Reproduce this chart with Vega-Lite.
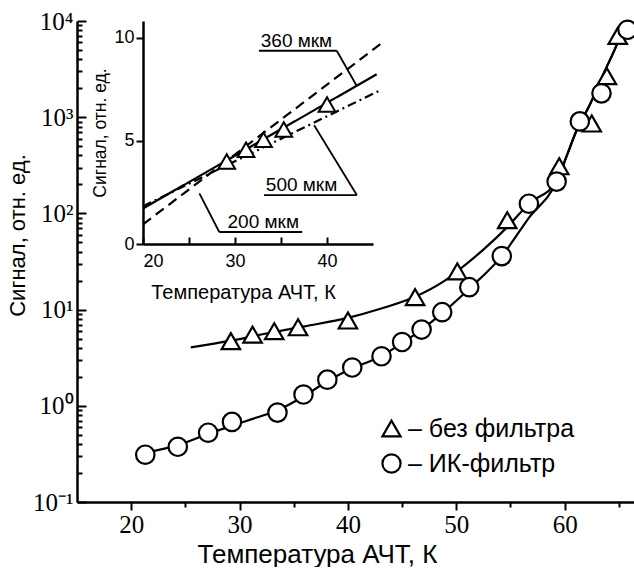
{
  "$schema": "https://vega.github.io/schema/vega-lite/v6.json",
  "background": "white",
  "padding": {"left": 6, "top": 9, "right": 0, "bottom": 0},
  "width": 557,
  "height": 481,
  "config": {
    "view": {"stroke": null},
    "axis": {"grid": false, "domainColor": "black", "tickColor": "black", "labelColor": "black", "titleColor": "black", "domainWidth": 2.5, "tickWidth": 2, "titleFontWeight": "normal"}
  },
  "datasets": {
    "main_points": [
      {"T": 29.2, "S": 4.7, "series": "без фильтра"},
      {"T": 31.2, "S": 5.5, "series": "без фильтра"},
      {"T": 33.2, "S": 5.96, "series": "без фильтра"},
      {"T": 35.4, "S": 6.55, "series": "без фильтра"},
      {"T": 40.0, "S": 7.7, "series": "без фильтра"},
      {"T": 46.2, "S": 13.5, "series": "без фильтра"},
      {"T": 50.1, "S": 25, "series": "без фильтра"},
      {"T": 54.7, "S": 85, "series": "без фильтра"},
      {"T": 59.5, "S": 309, "series": "без фильтра"},
      {"T": 62.5, "S": 860, "series": "без фильтра"},
      {"T": 63.9, "S": 2670, "series": "без фильтра"},
      {"T": 64.9, "S": 7000, "series": "без фильтра"},
      {"T": 21.3, "S": 0.31, "series": "ИК-фильтр"},
      {"T": 24.3, "S": 0.375, "series": "ИК-фильтр"},
      {"T": 27.1, "S": 0.525, "series": "ИК-фильтр"},
      {"T": 29.3, "S": 0.68, "series": "ИК-фильтр"},
      {"T": 33.5, "S": 0.85, "series": "ИК-фильтр"},
      {"T": 35.9, "S": 1.31, "series": "ИК-фильтр"},
      {"T": 38.1, "S": 1.87, "series": "ИК-фильтр"},
      {"T": 40.4, "S": 2.5, "series": "ИК-фильтр"},
      {"T": 43.1, "S": 3.27, "series": "ИК-фильтр"},
      {"T": 45.0, "S": 4.6, "series": "ИК-фильтр"},
      {"T": 46.8, "S": 6.2, "series": "ИК-фильтр"},
      {"T": 48.7, "S": 9.4, "series": "ИК-фильтр"},
      {"T": 51.2, "S": 17.1, "series": "ИК-фильтр"},
      {"T": 54.2, "S": 36, "series": "ИК-фильтр"},
      {"T": 56.7, "S": 126, "series": "ИК-фильтр"},
      {"T": 59.26, "S": 214, "series": "ИК-фильтр"},
      {"T": 61.4, "S": 904, "series": "ИК-фильтр"},
      {"T": 63.4, "S": 1770, "series": "ИК-фильтр"},
      {"T": 65.8, "S": 8100, "series": "ИК-фильтр"}
    ],
    "main_curves": [
      {"T": 25.5, "S": 4.05, "series": "без фильтра"},
      {"T": 29.2, "S": 4.75, "series": "без фильтра"},
      {"T": 33.2, "S": 5.85, "series": "без фильтра"},
      {"T": 36.0, "S": 6.7, "series": "без фильтра"},
      {"T": 40.0, "S": 8.2, "series": "без фильтра"},
      {"T": 43.0, "S": 10.2, "series": "без фильтра"},
      {"T": 46.2, "S": 13.6, "series": "без фильтра"},
      {"T": 48.8, "S": 19.5, "series": "без фильтра"},
      {"T": 50.8, "S": 29, "series": "без фильтра"},
      {"T": 52.5, "S": 42, "series": "без фильтра"},
      {"T": 54.7, "S": 72, "series": "без фильтра"},
      {"T": 56.7, "S": 126, "series": "без фильтра"},
      {"T": 59.26, "S": 214, "series": "без фильтра"},
      {"T": 60.2, "S": 398, "series": "без фильтра"},
      {"T": 61.1, "S": 727, "series": "без фильтра"},
      {"T": 62.3, "S": 1330, "series": "без фильтра"},
      {"T": 63.7, "S": 3000, "series": "без фильтра"},
      {"T": 64.8, "S": 5620, "series": "без фильтра"},
      {"T": 66.4, "S": 16000, "series": "без фильтра"},
      {"T": 21.6, "S": 0.33, "series": "ИК-фильтр"},
      {"T": 24.3, "S": 0.39, "series": "ИК-фильтр"},
      {"T": 27.1, "S": 0.51, "series": "ИК-фильтр"},
      {"T": 29.3, "S": 0.62, "series": "ИК-фильтр"},
      {"T": 31.5, "S": 0.75, "series": "ИК-фильтр"},
      {"T": 33.5, "S": 0.9, "series": "ИК-фильтр"},
      {"T": 35.9, "S": 1.25, "series": "ИК-фильтр"},
      {"T": 38.1, "S": 1.8, "series": "ИК-фильтр"},
      {"T": 40.4, "S": 2.45, "series": "ИК-фильтр"},
      {"T": 43.1, "S": 3.3, "series": "ИК-фильтр"},
      {"T": 45.0, "S": 4.5, "series": "ИК-фильтр"},
      {"T": 46.8, "S": 6.2, "series": "ИК-фильтр"},
      {"T": 48.7, "S": 9.2, "series": "ИК-фильтр"},
      {"T": 51.2, "S": 16.5, "series": "ИК-фильтр"},
      {"T": 54.2, "S": 36, "series": "ИК-фильтр"},
      {"T": 56.7, "S": 90, "series": "ИК-фильтр"},
      {"T": 59.26, "S": 214, "series": "ИК-фильтр"},
      {"T": 60.2, "S": 398, "series": "ИК-фильтр"},
      {"T": 61.1, "S": 727, "series": "ИК-фильтр"},
      {"T": 62.3, "S": 1330, "series": "ИК-фильтр"},
      {"T": 63.7, "S": 3000, "series": "ИК-фильтр"},
      {"T": 64.8, "S": 5620, "series": "ИК-фильтр"},
      {"T": 66.4, "S": 16000, "series": "ИК-фильтр"}
    ],
    "inset_lines": [
      {"T": 20, "S": 1.72, "series": "360 мкм"},
      {"T": 45.4, "S": 8.22, "series": "360 мкм"},
      {"T": 20, "S": 0.95, "series": "200 мкм"},
      {"T": 45.8, "S": 9.68, "series": "200 мкм"},
      {"T": 20, "S": 1.83, "series": "500 мкм"},
      {"T": 45.8, "S": 7.45, "series": "500 мкм"}
    ],
    "inset_points": [
      {"T": 29.1, "S": 3.99},
      {"T": 31.2, "S": 4.56},
      {"T": 33.1, "S": 5.05},
      {"T": 35.3, "S": 5.54},
      {"T": 40.0, "S": 6.76}
    ],
    "inset_labels": [
      {"T": 32.8, "S": 9.84, "label": "360 мкм"},
      {"T": 33.35, "S": 2.85, "label": "500 мкм"},
      {"T": 29.19, "S": 1.06, "label": "200 мкм"}
    ],
    "inset_segments": [
      {"T": 32.6, "S": 9.36, "T2": 41.06, "S2": 9.36},
      {"T": 41.06, "S": 9.36, "T2": 43.24, "S2": 7.65},
      {"T": 33.15, "S": 2.37, "T2": 43.24, "S2": 2.37},
      {"T": 43.24, "S": 2.37, "T2": 38.6, "S2": 5.75},
      {"T": 28.29, "S": 0.58, "T2": 37.3, "S2": 0.58},
      {"T": 28.29, "S": 0.58, "T2": 26.13, "S2": 2.45}
    ]
  },
  "layer": [
    {
      "layer": [
        {
          "data": {"name": "main_curves"},
          "mark": {"type": "line", "color": "black", "strokeWidth": 2.2, "interpolate": "monotone", "clip": true},
          "encoding": {
            "x": {
              "field": "T", "type": "quantitative",
              "scale": {"domain": [15, 66.4], "nice": false, "zero": false},
              "axis": {
                "orient": "bottom",
                "values": [20, 25, 30, 35, 40, 45, 50, 55, 60, 65],
                "labelExpr": "datum.value % 10 === 0 ? datum.label : ''",
                "tickSize": {"condition": {"test": "datum.value % 10 === 0", "value": 8}, "value": 5},
                "labelFont": "Liberation Serif", "labelFontSize": 25, "labelPadding": 2,
                "title": "Температура АЧТ, К", "titleFont": "Liberation Sans", "titleFontSize": 26,
                "titleX": 240, "titlePadding": 4
              }
            },
            "y": {
              "field": "S", "type": "quantitative",
              "scale": {"type": "log", "domain": [0.1, 10000], "nice": false},
              "axis": {
                "orient": "left",
                "values": [0.1, 0.2, 0.3, 0.4, 0.5, 0.6, 0.7, 0.8, 0.9, 1, 2, 3, 4, 5, 6, 7, 8, 9, 10, 20, 30, 40, 50, 60, 70, 80, 90, 100, 200, 300, 400, 500, 600, 700, 800, 900, 1000, 2000, 3000, 4000, 5000, 6000, 7000, 8000, 9000, 10000],
                "labelExpr": "datum.value === 0.1 ? '10⁻¹' : datum.value === 1 ? '10⁰' : datum.value === 10 ? '10¹' : datum.value === 100 ? '10²' : datum.value === 1000 ? '10³' : datum.value === 10000 ? '10⁴' : ''",
                "tickSize": {"condition": {"test": "indexof([0.1, 1, 10, 100, 1000, 10000], datum.value) >= 0", "value": -9}, "value": -5},
                "labelPadding": 13,
                "labelFont": "Liberation Serif", "labelFontSize": 25,
                "title": "Сигнал, отн. ед.", "titleFont": "Liberation Sans", "titleFontSize": 22,
                "titleY": 214, "titlePadding": 3
              }
            },
            "detail": {"field": "series"}
          }
        },
        {
          "data": {"name": "main_points"},
          "mark": {"type": "point", "filled": false, "fill": "white", "color": "black", "strokeWidth": 2.2, "opacity": 1, "size": 340},
          "encoding": {
            "x": {"field": "T", "type": "quantitative"},
            "y": {"field": "S", "type": "quantitative"},
            "shape": {
              "field": "series", "type": "nominal",
              "scale": {"domain": ["без фильтра", "ИК-фильтр"], "range": ["triangle-up", "circle"]},
              "legend": {
                "orient": "none", "legendX": 302, "legendY": 395, "title": null,
                "labelExpr": "'– ' + datum.label",
                "labelFont": "Liberation Sans", "labelFontSize": 25, "labelColor": "black", "labelLimit": 0,
                "symbolSize": 330, "symbolStrokeWidth": 2.2,
                "rowPadding": 8, "labelOffset": 4
              }
            }
          }
        }
      ]
    },
    {
      "layer": [
        {
          "data": {"name": "inset_lines"},
          "mark": {"type": "line", "color": "black", "strokeWidth": 2.2, "clip": false},
          "encoding": {
            "x": {
              "field": "T", "type": "quantitative",
              "scale": {"domain": [20, 45], "range": [66, 296], "nice": false, "zero": false},
              "axis": {
                "orient": "bottom", "offset": -258,
                "values": [20, 25, 30, 35, 40],
                "labelExpr": "datum.value % 10 === 0 ? datum.label : ''",
                "tickSize": -7, "labelPadding": 15,
                "labelFont": "Liberation Sans", "labelFontSize": 18,
                "title": "Температура АЧТ, К", "titleFont": "Liberation Sans", "titleFontSize": 20,
                "titleX": 166, "titlePadding": 12
              }
            },
            "y": {
              "field": "S", "type": "quantitative",
              "scale": {"domain": [0, 10.8], "range": [223, 0], "nice": false, "zero": false},
              "axis": {
                "orient": "left", "offset": -66,
                "values": [0, 5, 10], "tickSize": 7, "labelPadding": 2,
                "labelFont": "Liberation Sans", "labelFontSize": 18,
                "title": "Сигнал, отн. ед.", "titleFont": "Liberation Sans", "titleFontSize": 17.5,
                "titlePadding": 4
              }
            },
            "strokeDash": {
              "field": "series", "type": "nominal",
              "scale": {"domain": ["360 мкм", "200 мкм", "500 мкм"], "range": [[1, 0], [10, 6], [9, 4, 2, 4]]},
              "legend": null
            }
          }
        },
        {
          "data": {"name": "inset_points"},
          "mark": {"type": "point", "shape": "triangle-up", "filled": true, "fill": "white", "stroke": "black", "strokeWidth": 2, "opacity": 1, "size": 280},
          "encoding": {
            "x": {"field": "T", "type": "quantitative"},
            "y": {"field": "S", "type": "quantitative"}
          }
        },
        {
          "data": {"name": "inset_segments"},
          "mark": {"type": "rule", "color": "black", "strokeWidth": 1.8},
          "encoding": {
            "x": {"field": "T", "type": "quantitative"},
            "y": {"field": "S", "type": "quantitative"},
            "x2": {"field": "T2"},
            "y2": {"field": "S2"}
          }
        },
        {
          "data": {"name": "inset_labels"},
          "mark": {"type": "text", "align": "left", "baseline": "middle", "font": "Liberation Sans", "fontSize": 19, "color": "black"},
          "encoding": {
            "x": {"field": "T", "type": "quantitative"},
            "y": {"field": "S", "type": "quantitative"},
            "text": {"field": "label"}
          }
        }
      ]
    }
  ],
  "resolve": {
    "scale": {"x": "independent", "y": "independent"},
    "axis": {"x": "independent", "y": "independent"}
  }
}
